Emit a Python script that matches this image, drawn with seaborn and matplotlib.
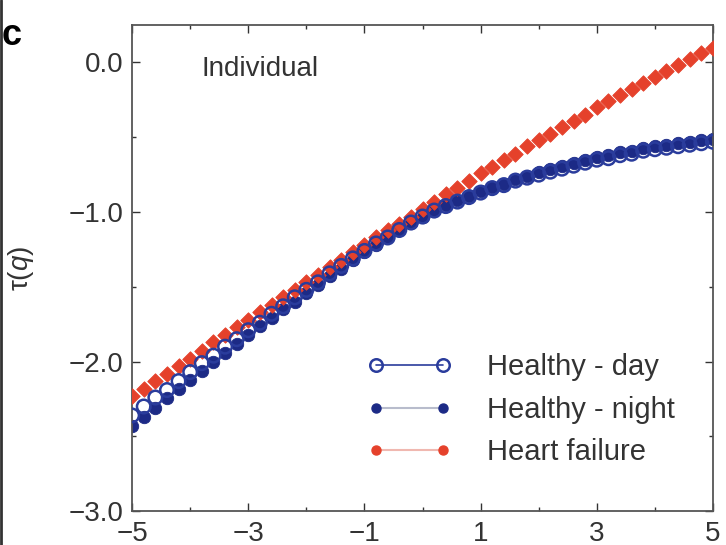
import numpy as np
import pandas as pd
import matplotlib
matplotlib.use("Agg")
import matplotlib.pyplot as plt
from matplotlib.lines import Line2D
import seaborn as sns

q = [-5.0, -4.8, -4.6, -4.4, -4.2, -4.0, -3.8, -3.6, -3.4, -3.2, -3.0, -2.8, -2.6, -2.4, -2.2,
     -2.0, -1.8, -1.6, -1.4, -1.2, -1.0, -0.8, -0.6, -0.4, -0.2, 0.0, 0.2, 0.4, 0.6, 0.8,
     1.0, 1.2, 1.4, 1.6, 1.8, 2.0, 2.2, 2.4, 2.6, 2.8, 3.0, 3.2, 3.4, 3.6, 3.8, 4.0, 4.2,
     4.4, 4.6, 4.8, 5.0]

heart_failure = [-2.23, -2.18, -2.13, -2.08, -2.03, -1.98, -1.93, -1.87, -1.82, -1.77, -1.72,
                 -1.67, -1.62, -1.57, -1.52, -1.47, -1.42, -1.37, -1.32, -1.27, -1.22, -1.17,
                 -1.12, -1.08, -1.03, -0.98, -0.93, -0.88, -0.84, -0.79, -0.74, -0.70, -0.65,
                 -0.61, -0.56, -0.52, -0.48, -0.43, -0.39, -0.35, -0.30, -0.26, -0.22, -0.18,
                 -0.14, -0.10, -0.06, -0.02, 0.02, 0.06, 0.10]

healthy_day = [-2.36, -2.30, -2.24, -2.19, -2.13, -2.07, -2.01, -1.96, -1.90, -1.85, -1.79,
               -1.74, -1.68, -1.63, -1.57, -1.52, -1.47, -1.41, -1.36, -1.31, -1.26, -1.21,
               -1.17, -1.12, -1.07, -1.03, -0.99, -0.96, -0.93, -0.90, -0.87, -0.84, -0.82,
               -0.79, -0.77, -0.75, -0.73, -0.71, -0.69, -0.67, -0.65, -0.64, -0.62, -0.61,
               -0.59, -0.58, -0.57, -0.56, -0.55, -0.54, -0.53]

healthy_night = [-2.43, -2.37, -2.31, -2.24, -2.18, -2.12, -2.06, -2.00, -1.94, -1.88, -1.82,
                 -1.76, -1.71, -1.65, -1.60, -1.54, -1.49, -1.43, -1.38, -1.32, -1.27, -1.22,
                 -1.17, -1.12, -1.07, -1.03, -0.99, -0.95, -0.92, -0.89, -0.86, -0.83, -0.81,
                 -0.78, -0.76, -0.73, -0.71, -0.69, -0.67, -0.65, -0.63, -0.62, -0.60, -0.59,
                 -0.57, -0.56, -0.55, -0.54, -0.53, -0.52, -0.51]

x_ticks = [-5, -3, -1, 1, 3, 5]
y_ticks = [0.0, -1.0, -2.0, -3.0]
y_tick_labels = ["0.0", "\u22121.0", "\u22122.0", "\u22123.0"]
labels = ["Healthy - day", "Healthy - night", "Heart failure"]

sns.set_theme(style="ticks")
plt.rcParams['font.family'] = ['Liberation Sans', 'DejaVu Sans']
plt.rcParams['mathtext.fontset'] = 'custom'
plt.rcParams['mathtext.it'] = 'Liberation Sans:italic'
plt.rcParams['mathtext.rm'] = 'Liberation Sans'

fig = plt.figure(figsize=(7.26, 5.45), dpi=100)
ax = fig.add_axes([0.182, 0.062, 0.800, 0.892])

df = pd.DataFrame({"q": q, "hf": heart_failure, "day": healthy_day, "night": healthy_night})

red = "#e5412b"
navy = "#1c2a86"
dayc = "#2a3c9c"

sns.scatterplot(data=df, x="q", y="hf", ax=ax, marker="D", s=62, color=red,
                edgecolor=red, linewidth=0.6, zorder=3)
sns.scatterplot(data=df, x="q", y="night", ax=ax, marker="o", s=80, color=navy,
                edgecolor=navy, linewidth=0.6, zorder=2)
sns.scatterplot(data=df, x="q", y="day", ax=ax, marker="o", s=95, facecolor="none",
                edgecolor=dayc, linewidth=1.8, zorder=4)

ax.set_xlim(-5, 5)
ax.set_ylim(-3.0, 0.25)
ax.set_xticks(x_ticks)
ax.set_xticklabels(["\u2212" + str(-t) if t < 0 else str(t) for t in x_ticks])
ax.set_yticks(y_ticks)
ax.set_yticklabels(y_tick_labels)
ax.set_xticks([-4, -2, 0, 2, 4], minor=True)
ax.set_yticks([-0.5, -1.5, -2.5], minor=True)
ax.tick_params(which="both", direction="in", top=True, right=True, labelsize=20,
               colors="#333333", width=1.0)
ax.tick_params(which="major", length=6)
ax.tick_params(which="minor", length=3)
ax.tick_params(axis="x", pad=7)
ax.tick_params(axis="y", pad=6)
for s in ax.spines.values():
    s.set_color("#555555")
    s.set_linewidth(1.3)
ax.set_xlabel("")
ax.set_ylabel("\u03c4($q$)", fontsize=20, color="#333333")
ax.yaxis.set_label_coords(-0.165, 0.5)

ax.text(0.12, 0.91, "Individual", transform=ax.transAxes, fontsize=20, color="#333333",
        va="center", ha="left")
fig.text(0.002, 0.935, "c", fontsize=26, fontweight="bold", color="black", va="center")

handles = [
    Line2D([0], [0], color=dayc, lw=1.2, marker="o", markersize=9, markerfacecolor="none",
           markeredgecolor=dayc, markeredgewidth=1.8),
    Line2D([0], [0], color="#b8bccc", lw=1.5, marker="o", markersize=6.5, markerfacecolor=navy,
           markeredgecolor=navy),
    Line2D([0], [0], color="#f0b8b0", lw=1.5, marker="o", markersize=6.5, markerfacecolor=red,
           markeredgecolor=red),
]
leg = ax.legend(handles, labels, loc="upper left", bbox_to_anchor=(0.405, 0.325),
                frameon=False, fontsize=21, numpoints=2, handlelength=2.9,
                labelspacing=0.5, handletextpad=1.2, borderpad=0, borderaxespad=0)
for t in leg.get_texts():
    t.set_color("#333333")

fig.add_artist(Line2D([0.002, 0.002], [0, 1], transform=fig.transFigure, color="#333333", lw=2))

fig.savefig("out.png", dpi=100)
